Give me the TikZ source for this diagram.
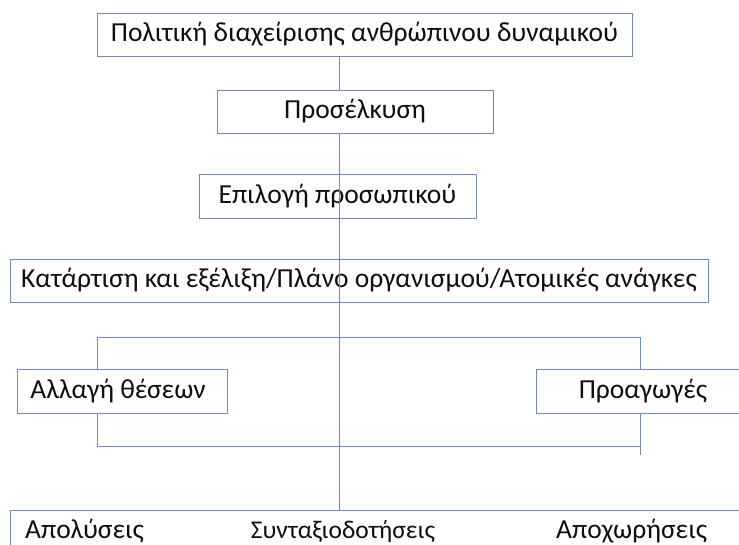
\documentclass[tikz,border=0pt]{standalone}
\usepackage{fontspec}
\setmainfont{Carlito}
\definecolor{edge}{RGB}{112,140,182}
\definecolor{ink}{RGB}{15,15,15}
\tikzset{
  box/.style={draw=edge, line width=0.9pt, fill=white, inner sep=0pt,
              text=ink, font=\fontsize{27.5}{32}\selectfont},
  link/.style={draw=edge, line width=0.9pt},
  label/.style={inner sep=0pt, text=ink, font=\fontsize{27.5}{32}\selectfont, anchor=base west}
}
\begin{document}
\begin{tikzpicture}[x=1pt, y=-1pt]
  \useasboundingbox[fill=white] (0,0) rectangle (739,545);

  % bracket around the two side boxes
  \coordinate (bl) at (97,337);
  \coordinate (br) at (640,337);
  \coordinate (bbl) at (97,446);
  \coordinate (bbr) at (640,446);
  \coordinate (tail) at (640,455);
  \draw[link] (bbl) -- (bl) -- (br) -- (tail);
  \draw[link] (bbl) -- (bbr);

  % bottom box (runs past the page edge)
  \node[box, minimum width=760pt, minimum height=70pt, anchor=north west] (bottom) at (10,510) {};

  \node[box, minimum width=535pt, minimum height=43pt] (policy) at (364.5,34.5)
    {\raisebox{-2pt}{Πολιτική διαχείρισης ανθρώπινου δυναμικού}};
  \node[box, minimum width=276pt, minimum height=43pt] (attract) at (355,111.5)
    {\raisebox{-2pt}{Προσέλκυση}};
  \node[box, minimum width=277pt, minimum height=44pt] (select) at (337.5,196)
    {\raisebox{-2pt}{Επιλογή προσωπικού}};
  \node[box, minimum width=698pt, minimum height=43pt] (train) at (359,280.5)
    {\raisebox{-2pt}{Κατάρτιση και εξέλιξη/Πλάνο οργανισμού/Ατομικές ανάγκες}};
  \node[box, minimum width=210pt, minimum height=44pt] (move) at (122,391)
    {\hspace*{-8pt}\raisebox{-2pt}{Αλλαγή θέσεων}};
  \node[box, minimum width=214pt, minimum height=44pt] (promo) at (643,391)
    {\raisebox{-2pt}{Προαγωγές}};

  \node[label] (fire) at (25,538) {Απολύσεις};
  \node[label, anchor=base, font=\fontsize{25.5}{30}\selectfont] (pension) at (343,538) {Συνταξιοδοτήσεις};
  \node[label] (leave) at (556,538) {Αποχωρήσεις};

  % main spine
  \draw[link] (policy.south -| 339,0) -- (attract.north -| 339,0);
  \draw[link] (attract.south -| 339,0) -- (bottom.north -| 339,0);
\end{tikzpicture}
\end{document}
